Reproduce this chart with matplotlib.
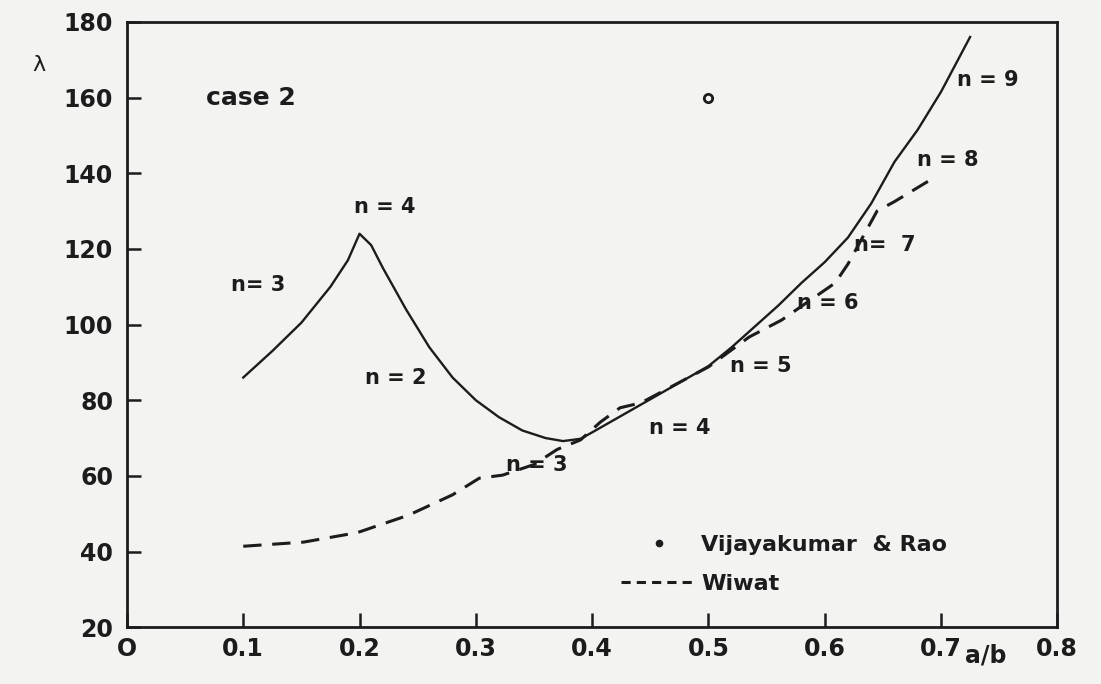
import numpy as np
import matplotlib.pyplot as plt
from matplotlib.lines import Line2D

# solid curve (present analysis)
solid_x = [0.100, 0.125, 0.150, 0.175, 0.190, 0.200, 0.210, 0.220, 0.240, 0.260, 0.280,
           0.300, 0.320, 0.340, 0.360, 0.375, 0.390, 0.400, 0.420, 0.440, 0.460, 0.480,
           0.500, 0.520, 0.540, 0.560, 0.580, 0.600, 0.620, 0.640, 0.660, 0.680, 0.700,
           0.725]
solid_y = [86.0, 93.0, 100.5, 110.0, 117.0, 124.0, 121.0, 115.0, 104.0, 94.0, 86.0,
           80.0, 75.5, 72.0, 70.0, 69.2, 69.8, 71.5, 75.0, 78.5, 82.0, 85.5,
           89.0, 94.0, 99.5, 105.0, 111.0, 116.5, 123.0, 132.0, 143.0, 151.5, 161.5,
           176.0]

# Wiwat (dashed)
wiwat_x = [0.100, 0.152, 0.198, 0.242, 0.280, 0.303, 0.323, 0.350, 0.370, 0.390, 0.407,
           0.424, 0.442, 0.500, 0.535, 0.563, 0.609, 0.620, 0.645, 0.660, 0.695]
wiwat_y = [41.4, 42.5, 45.0, 49.6, 55.0, 59.4, 60.2, 63.0, 67.0, 69.5, 74.2,
           78.0, 79.3, 88.8, 96.7, 101.2, 111.0, 116.0, 130.0, 132.5, 139.0]

# Vijayakumar & Rao
vr_x = [0.5]
vr_y = [160.0]

# mode labels
mode_text = ['n= 3', 'n = 4', 'n = 2', 'n = 3', 'n = 4', 'n = 5', 'n = 6', 'n=  7', 'n = 8', 'n = 9']
mode_x = [0.113, 0.222, 0.231, 0.352, 0.475, 0.545, 0.603, 0.652, 0.706, 0.740]
mode_y = [110.5, 131.0, 86.0, 63.0, 72.6, 89.0, 105.7, 121.0, 143.5, 164.7]

ink = '#1c1c1c'
paper = '#f3f3f1'
plt.rcParams['font.family'] = ['DejaVu Sans']
plt.rcParams['font.weight'] = 'bold'

fig = plt.figure(figsize=(11.01, 6.84), dpi=100, facecolor=paper)
ax = fig.add_axes([0.1153, 0.083, 0.845, 0.885])
ax.set_facecolor(paper)

ax.plot(solid_x, solid_y, color=ink, lw=1.7, solid_joinstyle='round')
ax.plot(wiwat_x, wiwat_y, color=ink, lw=2.2, dashes=(6, 3.5))
ax.plot(vr_x, vr_y, 'o', ms=6, mfc=paper, mec=ink, mew=2)

for t, x, y in zip(mode_text, mode_x, mode_y):
    ax.text(x, y, t, ha='center', va='center', fontsize=15, color=ink)

ax.text(0.068, 160, 'case 2', ha='left', va='center', fontsize=18, color=ink)

ax.set_xlim(0, 0.8)
ax.set_ylim(20, 180)
ax.set_xticks(np.arange(0, 0.81, 0.1))
ax.set_xticklabels(['O', '0.1', '0.2', '0.3', '0.4', '0.5', '0.6', '0.7', '0.8'])
ax.set_yticks(np.arange(20, 181, 20))
ax.tick_params(direction='in', length=10, width=1.8, colors=ink, labelsize=17)
ax.tick_params(axis='y', pad=10)
ax.tick_params(axis='x', pad=7)
for s in ax.spines.values():
    s.set_linewidth(2)
    s.set_color(ink)

fig.text(0.035, 0.905, 'λ', fontsize=16, color=ink, ha='center', va='center',
         fontweight='normal')
fig.text(0.895, 0.042, 'a/b', fontsize=17, color=ink, ha='center', va='center')

handles = [Line2D([], [], ls='none', marker='.', ms=9, color=ink),
           Line2D([], [], color=ink, lw=2.2, dashes=(3, 2))]
ax.legend(handles, ['Vijayakumar  & Rao', 'Wiwat'], loc='lower left',
          bbox_to_anchor=(0.510, 0.022), frameon=False, fontsize=16,
          handlelength=3.4, handletextpad=0.2, labelspacing=0.85, labelcolor=ink)

fig.savefig('out.png', dpi=100, facecolor=paper)
